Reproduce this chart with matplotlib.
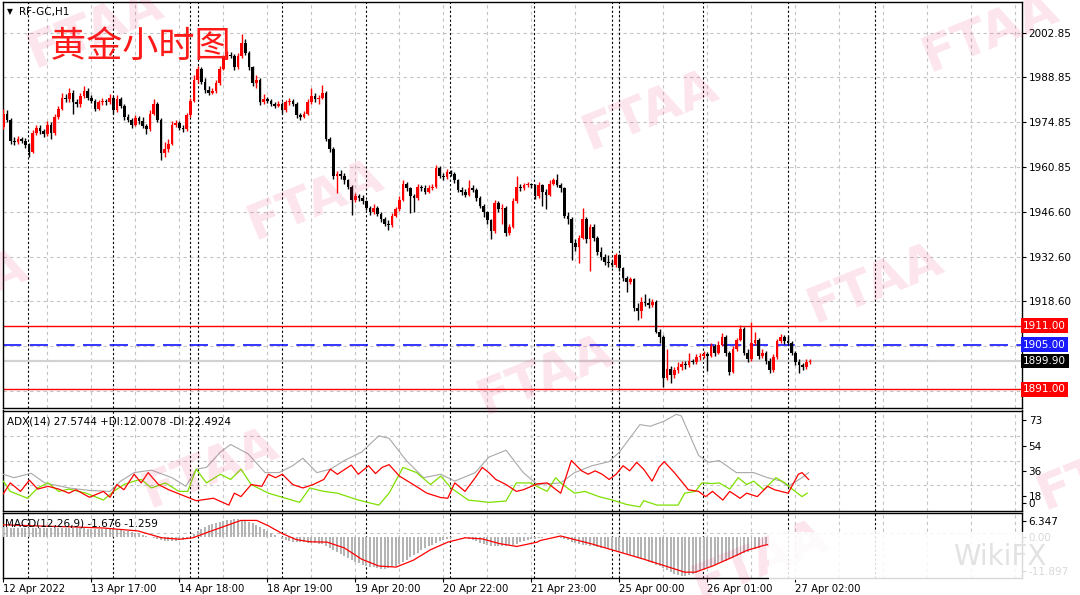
import matplotlib.pyplot as plt
from matplotlib.patches import Rectangle
import numpy as np

plt.rcParams['font.family'] = ['DejaVu Sans']

W, H = 1080, 595

# ---- H1 candles (RF-GC) ----
opens = [1973.3, 1977.5, 1975.5, 1969.0, 1968.5, 1969.5, 1969.0, 1967.5, 1965.5, 1971.5,
         1973.0, 1972.0, 1971.0, 1974.0, 1971.5, 1976.5, 1979.0, 1982.5, 1982.0, 1984.0,
         1981.0, 1980.5, 1983.0, 1984.5, 1982.5, 1981.5, 1979.0, 1981.0, 1981.5, 1981.0,
         1982.5, 1978.5, 1982.0, 1980.0, 1976.5, 1975.5, 1974.0, 1976.0, 1975.0, 1973.5,
         1972.5, 1977.5, 1980.5, 1975.5, 1965.0, 1966.5, 1968.0, 1974.0, 1974.5, 1973.0,
         1972.5, 1977.0, 1981.5, 1988.0, 1991.5, 1987.5, 1985.0, 1984.0, 1984.5, 1987.0,
         1991.5, 1995.0, 1996.0, 1995.5, 1992.0, 1995.5, 1999.5, 1996.5, 1992.0, 1987.0,
         1988.0, 1981.0, 1982.0, 1981.5, 1980.5, 1980.0, 1980.5, 1978.5, 1981.0, 1981.5,
         1980.5, 1977.0, 1976.5, 1977.5, 1981.0, 1983.0, 1982.0, 1982.5, 1984.0, 1969.5,
         1966.5, 1958.0, 1958.5, 1958.0, 1956.5, 1954.5, 1950.5, 1951.5, 1951.0, 1950.0,
         1948.0, 1946.5, 1948.0, 1946.0, 1944.5, 1943.0, 1942.5, 1945.5, 1947.5, 1950.5,
         1955.5, 1954.0, 1951.5, 1951.0, 1954.5, 1954.0, 1953.0, 1954.0, 1954.5, 1960.5,
         1958.0, 1957.5, 1959.0, 1958.5, 1956.5, 1953.5, 1953.0, 1952.0, 1954.0, 1953.5,
         1951.0, 1948.5, 1946.5, 1944.0, 1940.5, 1949.5, 1947.5, 1948.0, 1940.0, 1942.0,
         1950.0, 1954.5, 1954.0, 1955.0, 1955.3, 1955.0, 1951.5, 1955.0, 1953.0, 1952.0,
         1955.5, 1956.5, 1955.0, 1954.0, 1945.5, 1944.5, 1937.0, 1935.5, 1938.5, 1944.5,
         1938.0, 1942.0, 1938.5, 1934.0, 1932.5, 1931.0, 1930.5, 1930.0, 1933.0, 1929.0,
         1926.0, 1924.5, 1925.5, 1916.5, 1915.5, 1918.5, 1918.0, 1917.5, 1918.5, 1909.0,
         1907.5, 1894.5, 1897.5, 1895.5, 1897.0, 1898.0, 1899.0, 1898.5, 1899.8, 1899.5,
         1901.0, 1901.5, 1902.0, 1901.5, 1904.5, 1902.5, 1905.0, 1907.5, 1902.5, 1896.5,
         1903.5, 1906.5, 1910.0, 1902.5, 1900.5, 1905.5, 1906.5, 1901.5, 1902.5, 1900.0,
         1897.0, 1901.0, 1906.0, 1907.5, 1906.0, 1905.5, 1902.5, 1899.5, 1898.5, 1898.0,
         1899.5]
highs = [1978.8, 1978.5, 1976.0, 1970.2, 1970.5, 1970.0, 1969.8, 1968.2, 1972.3, 1974.0,
         1973.8, 1972.6, 1975.0, 1974.8, 1977.2, 1979.8, 1983.8, 1983.5, 1985.5, 1985.0,
         1982.0, 1984.0, 1986.0, 1985.5, 1983.2, 1982.0, 1981.8, 1982.5, 1982.2, 1983.5,
         1983.0, 1983.2, 1982.8, 1980.5, 1977.5, 1976.2, 1977.0, 1976.8, 1976.5, 1974.2,
         1978.5, 1982.0, 1981.0, 1976.0, 1968.5, 1969.5, 1975.0, 1975.5, 1975.2, 1973.8,
         1977.8, 1982.5, 1989.5, 1992.5, 1992.0, 1988.5, 1986.0, 1985.5, 1988.0, 1992.5,
         1996.0, 1997.2, 1996.8, 1996.2, 1996.5, 2002.5, 2001.0, 1997.0, 1992.5, 1989.5,
         1988.5, 1983.5, 1982.8, 1982.0, 1981.2, 1981.3, 1981.0, 1981.8, 1982.5, 1982.0,
         1981.0, 1977.8, 1978.3, 1982.0, 1985.5, 1983.8, 1983.3, 1986.5, 1984.5, 1970.2,
         1967.0, 1959.5, 1959.8, 1958.8, 1957.0, 1955.0, 1952.5, 1952.2, 1951.8, 1950.5,
         1948.6, 1949.0, 1948.5, 1946.5, 1945.0, 1944.0, 1946.2, 1948.3, 1951.5, 1956.5,
         1956.0, 1954.5, 1952.3, 1955.5, 1955.2, 1955.0, 1955.0, 1955.5, 1961.3, 1961.0,
         1958.8, 1960.0, 1959.8, 1959.2, 1957.0, 1954.5, 1953.8, 1956.5, 1955.0, 1954.0,
         1951.5, 1949.2, 1947.0, 1944.5, 1950.5, 1950.2, 1949.0, 1948.5, 1943.0, 1951.0,
         1958.0, 1955.5, 1955.8, 1956.0, 1955.8, 1955.5, 1956.0, 1955.5, 1953.8, 1956.5,
         1957.2, 1958.5, 1955.8, 1954.5, 1946.5, 1945.0, 1938.0, 1939.5, 1948.0, 1945.0,
         1943.0, 1942.8, 1939.0, 1935.5, 1933.5, 1933.0, 1931.5, 1933.8, 1933.5, 1929.5,
         1926.5, 1926.2, 1926.0, 1918.0, 1920.0, 1921.0, 1919.5, 1919.3, 1919.0, 1910.0,
         1908.0, 1903.5, 1898.2, 1898.0, 1899.5, 1900.0, 1899.8, 1902.5, 1900.5, 1902.0,
         1902.5, 1903.0, 1902.8, 1905.5, 1905.2, 1906.2, 1908.5, 1908.0, 1903.0, 1904.5,
         1907.2, 1911.3, 1910.5, 1903.5, 1912.2, 1909.0, 1907.0, 1903.5, 1903.0, 1900.8,
         1902.0, 1906.8, 1908.3, 1908.0, 1907.8, 1906.0, 1903.0, 1900.5, 1899.2, 1900.5,
         1900.6]
lows = [1972.5, 1974.8, 1968.0, 1967.5, 1967.8, 1968.3, 1966.8, 1964.0, 1965.0, 1970.8,
        1971.2, 1970.2, 1970.5, 1969.5, 1970.8, 1975.8, 1978.5, 1981.0, 1981.2, 1977.5,
        1979.5, 1979.5, 1982.5, 1981.8, 1980.8, 1978.2, 1978.5, 1980.3, 1980.2, 1980.5,
        1977.5, 1978.0, 1979.2, 1975.5, 1974.8, 1973.0, 1973.5, 1974.2, 1972.8, 1971.2,
        1972.0, 1977.0, 1974.8, 1962.8, 1964.0, 1965.5, 1967.5, 1973.2, 1972.3, 1971.8,
        1972.0, 1976.5, 1981.0, 1987.2, 1986.8, 1984.0, 1983.2, 1983.5, 1984.0, 1986.5,
        1991.0, 1994.5, 1994.8, 1991.0, 1991.5, 1995.0, 1996.0, 1991.2, 1986.0, 1985.5,
        1980.2, 1980.5, 1980.8, 1979.8, 1979.3, 1979.5, 1977.5, 1978.0, 1980.3, 1979.8,
        1976.0, 1975.5, 1976.0, 1977.0, 1980.5, 1981.2, 1980.5, 1982.0, 1968.8, 1965.5,
        1957.0, 1952.6, 1957.0, 1955.5, 1953.8, 1945.7, 1949.8, 1950.2, 1949.2, 1947.2,
        1945.8, 1946.0, 1945.2, 1943.6, 1942.2, 1940.9, 1942.0, 1945.0, 1947.0, 1950.0,
        1953.2, 1946.3, 1946.5, 1950.5, 1953.2, 1952.2, 1952.5, 1953.5, 1954.0, 1957.2,
        1956.8, 1957.0, 1957.8, 1955.8, 1952.8, 1952.0, 1951.3, 1951.5, 1952.8, 1950.2,
        1947.8, 1945.0, 1943.0, 1938.0, 1940.0, 1946.5, 1943.0, 1939.0, 1939.5, 1941.5,
        1949.5, 1953.2, 1953.5, 1954.5, 1954.2, 1950.8, 1951.0, 1948.5, 1947.5, 1951.5,
        1955.0, 1954.5, 1953.0, 1944.8, 1943.0, 1931.5, 1934.5, 1930.5, 1938.0, 1937.0,
        1928.0, 1937.5, 1933.2, 1931.5, 1930.0, 1929.5, 1929.2, 1929.5, 1928.2, 1925.0,
        1921.5, 1924.0, 1915.5, 1912.8, 1913.5, 1917.0, 1916.5, 1916.8, 1908.5, 1905.5,
        1891.7, 1894.0, 1893.0, 1894.5, 1896.0, 1897.2, 1897.5, 1898.0, 1898.8, 1899.0,
        1900.3, 1900.8, 1896.8, 1901.0, 1901.5, 1902.0, 1904.5, 1901.5, 1895.5, 1896.0,
        1903.0, 1906.0, 1901.8, 1899.5, 1900.0, 1904.8, 1900.5, 1900.8, 1899.0, 1896.2,
        1896.5, 1900.5, 1905.5, 1905.2, 1904.8, 1901.8, 1898.5, 1896.2, 1897.0, 1897.5,
        1899.0]
closes = [1977.5, 1975.5, 1969.0, 1968.5, 1969.5, 1969.0, 1967.5, 1965.5, 1971.5, 1973.0,
          1972.0, 1971.0, 1974.0, 1971.5, 1976.5, 1979.0, 1982.5, 1982.0, 1984.0, 1981.0,
          1980.5, 1983.0, 1984.5, 1982.5, 1981.5, 1979.0, 1981.0, 1981.5, 1981.0, 1982.5,
          1978.5, 1982.0, 1980.0, 1976.5, 1975.5, 1974.0, 1976.0, 1975.0, 1973.5, 1972.5,
          1977.5, 1980.5, 1975.5, 1965.0, 1966.5, 1968.0, 1974.0, 1974.5, 1973.0, 1972.5,
          1977.0, 1981.5, 1988.0, 1991.5, 1987.5, 1985.0, 1984.0, 1984.5, 1987.0, 1991.5,
          1995.0, 1996.0, 1995.5, 1992.0, 1995.5, 1999.5, 1996.5, 1992.0, 1987.0, 1988.0,
          1981.0, 1982.0, 1981.5, 1980.5, 1980.0, 1980.5, 1978.5, 1981.0, 1981.5, 1980.5,
          1977.0, 1976.5, 1977.5, 1981.0, 1983.0, 1982.0, 1982.5, 1984.0, 1969.5, 1966.5,
          1958.0, 1958.5, 1958.0, 1956.5, 1954.5, 1950.5, 1951.5, 1951.0, 1950.0, 1948.0,
          1946.5, 1948.0, 1946.0, 1944.5, 1943.0, 1942.5, 1945.5, 1947.5, 1950.5, 1955.5,
          1954.0, 1951.5, 1951.0, 1954.5, 1954.0, 1953.0, 1954.0, 1954.5, 1960.5, 1958.0,
          1957.5, 1959.0, 1958.5, 1956.5, 1953.5, 1953.0, 1952.0, 1954.0, 1953.5, 1951.0,
          1948.5, 1946.5, 1944.0, 1940.5, 1949.5, 1947.5, 1948.0, 1940.0, 1942.0, 1950.0,
          1954.5, 1954.0, 1955.0, 1955.3, 1955.0, 1951.5, 1955.0, 1953.0, 1952.0, 1955.5,
          1956.5, 1955.0, 1954.0, 1945.5, 1944.5, 1937.0, 1935.5, 1938.5, 1944.5, 1938.0,
          1942.0, 1938.5, 1934.0, 1932.5, 1931.0, 1930.5, 1930.0, 1933.0, 1929.0, 1926.0,
          1924.5, 1925.5, 1916.5, 1915.5, 1918.5, 1918.0, 1917.5, 1918.5, 1909.0, 1907.5,
          1894.5, 1897.5, 1895.5, 1897.0, 1898.0, 1899.0, 1898.5, 1899.8, 1899.5, 1901.0,
          1901.5, 1902.0, 1901.5, 1904.5, 1902.5, 1905.0, 1907.5, 1902.5, 1896.5, 1903.5,
          1906.5, 1910.0, 1902.5, 1900.5, 1905.5, 1906.5, 1901.5, 1902.5, 1900.0, 1897.0,
          1901.0, 1906.0, 1907.5, 1906.0, 1905.5, 1902.5, 1899.5, 1898.5, 1898.0, 1899.5,
          1899.9]

# ---- ADX(14): (bar, value) ----
adx = [(0, 33.5), (2.9, 31), (7.6, 34.2), (11.3, 27.2), (17.9, 23.5), (23.5, 21.7), (29.1, 21),
       (32, 28.5), (35.7, 34.7), (40.4, 36.5), (46, 31), (49.8, 24.7), (52.6, 37.2), (55.4, 38.5),
       (59.2, 49.7), (62, 55.2), (66.7, 48.5), (71.4, 34.7), (75.2, 34.7), (78.9, 39.7), (81.7, 45.2),
       (85.5, 34.7), (89.2, 37.2), (93, 43.5), (97.7, 49.7), (102.4, 61.5), (105.2, 59.7),
       (109.9, 43.5), (114.6, 31), (119.3, 33.5), (123.1, 28.5), (128.7, 34.7), (132.4, 46),
       (137.1, 51), (141.8, 34.7), (145.6, 26), (152, 27.2), (155.8, 34.7), (160.5, 39.7),
       (165.2, 42.7), (168, 49.7), (173.6, 69.7), (176.4, 68.5), (180.2, 72.2), (183.5, 77.2),
       (184.9, 76), (189.6, 47.2), (192.4, 42.2), (195.2, 43.5), (199.9, 34.7), (204.6, 34.7),
       (208.4, 31), (212.1, 28.5), (214, 24.7), (217.8, 31), (219.6, 34.7)]
minus_di = [(0, 19.2), (1.9, 27.2), (4.7, 21), (7.1, 29.2), (9.4, 22.7), (12.2, 24.7), (15.1, 22.7),
            (17.9, 19.7), (19.8, 22.2), (23.5, 16.7), (27.3, 21), (29.1, 16.7), (31, 26), (32.9, 22.2),
            (35.7, 33.5), (37.6, 27.2), (39.5, 34.7), (42.3, 26), (45.1, 22.2), (49.8, 17.2),
            (52.6, 14.2), (57.3, 16), (61.5, 11), (63, 19.7), (64.8, 17.2), (67.6, 26), (70.5, 24.7),
            (72.3, 33.5), (74.2, 31), (76.1, 33.5), (78.9, 26), (81.7, 23.5), (84.5, 26), (87.4, 29.7),
            (89.2, 37.2), (91.1, 33.5), (94.9, 40.2), (96.8, 33.5), (99.6, 39.7), (101.5, 34),
            (103.3, 38.5), (105.2, 40.5), (108, 32.2), (111.8, 26), (115.5, 19.7), (119.3, 16.5),
            (121.2, 16), (123.1, 27.2), (125.9, 21), (128.7, 31), (130.6, 38.5), (132.4, 34.7),
            (134.3, 29.7), (137.1, 26), (139.9, 21), (141.8, 22.2), (145.6, 26.5), (148.3, 27.2),
            (152, 19.7), (154.9, 43.5), (157.7, 36), (159.5, 33.5), (161.4, 36), (163.3, 33.5),
            (165.2, 29.7), (167.1, 33.5), (169, 39.7), (170.8, 36), (172.7, 42.2), (174.6, 37.2),
            (176.9, 28.5), (178.8, 38.5), (180.2, 42.7), (183, 34.7), (186.8, 22.2), (189.6, 21),
            (191.5, 17.2), (193.4, 21), (196.2, 14.7), (198.1, 21), (200.9, 16), (202.7, 19.7),
            (205.6, 17.2), (208.4, 24.7), (210.3, 22.2), (214, 19.7), (216.8, 33.5), (217.8, 34.7),
            (219.6, 29.7)]
plus_di = [(0, 28.5), (1.9, 21), (6.6, 16), (9.4, 23.5), (12.2, 27.2), (15.1, 21), (17.9, 22.7),
           (22.6, 19.7), (27.3, 14.7), (30.1, 21), (32.9, 26), (35.7, 28.5), (37.6, 29.7), (40.4, 23.5),
           (44.2, 27.2), (47.9, 21), (50.3, 21), (52.6, 37.2), (55.4, 27.2), (59.2, 33.5), (62, 29.7),
           (64.8, 37.2), (67.6, 26), (72.3, 19.7), (77, 16), (80.8, 13), (83.6, 23.5), (87.4, 21),
           (91.1, 19.7), (96.8, 14.7), (102.4, 11), (105.2, 19.7), (109, 38.5), (112.7, 34.7),
           (116.5, 26), (119.3, 32.2), (122.1, 23.5), (126.8, 14.7), (132.4, 13), (137.1, 14),
           (139.9, 27.2), (143.7, 27.2), (146.4, 23.5), (148.3, 21), (150.6, 31), (152.5, 26),
           (155.8, 19.7), (158.6, 21), (162.4, 17.2), (166.1, 14.7), (169.9, 11.5), (173.6, 9.7),
           (174.6, 14.2), (178.3, 11), (184, 11), (185.8, 19.7), (188.7, 21), (190.5, 27.2),
           (193.4, 26.7), (195.2, 27.2), (198.1, 22.7), (200.4, 31), (202.7, 26), (204.6, 28.5),
           (207.4, 22.2), (210.7, 31), (213.1, 27.2), (215.9, 21), (217.8, 17.2), (219.2, 19.7)]

# ---- MACD(12,26,9) ----
macd_hist = [2.6, 2.6, 2.5, 2.5, 2.4, 2.4, 2.4, 2.3, 2.3, 2.4,
             2.4, 2.4, 2.3, 2.3, 2.3, 2.4, 2.5, 2.5, 2.4, 2.4,
             2.3, 2.3, 2.3, 2.2, 2.2, 2.1, 2.1, 2.1, 2.0, 2.0,
             2.0, 1.9, 1.8, 1.6, 1.5, 1.3, 1.1, 0.9, 0.6, 0.3,
             0.0, -0.3, -0.6, -0.9, -1.1, -1.2, -1.2, -1.1, -1.0, -0.8,
             -0.5, 0.0, 0.8, 1.6, 2.2, 2.8, 3.2, 3.6, 3.9, 4.2,
             4.4, 4.6, 4.7, 4.8, 4.8, 4.7, 4.5, 4.2, 3.8, 3.3,
             2.7, 2.1, 1.5, 0.9, 0.4, -0.1, -0.5, -0.9, -1.2, -1.4,
             -1.5, -1.6, -1.6, -1.7, -1.7, -1.8, -1.9, -2.1, -2.6, -3.1,
             -3.7, -4.3, -4.9, -5.4, -5.9, -6.4, -6.9, -7.3, -7.7, -8.0,
             -8.3, -8.5, -8.7, -8.8, -8.8, -8.7, -8.4, -8.0, -7.5, -6.9,
             -6.3, -5.7, -5.0, -4.4, -3.8, -3.2, -2.7, -2.2, -1.7, -1.3,
             -0.9, -0.6, -0.4, -0.2, -0.1, -0.2, -0.3, -0.6, -0.9, -1.3,
             -1.7, -2.0, -2.3, -2.5, -2.6, -2.7, -2.7, -2.6, -2.4, -2.2,
             -1.9, -1.6, -1.3, -1.0, -0.7, -0.5, -0.4, -0.3, -0.2, -0.1,
             0.0, -0.1, -0.3, -0.6, -1.0, -1.4, -1.7, -2.0, -2.2, -2.4,
             -2.6, -2.7, -2.9, -3.0, -3.2, -3.4, -3.7, -4.0, -4.2, -4.5,
             -4.8, -5.1, -5.5, -5.8, -6.1, -6.5, -6.9, -7.3, -7.7, -8.1,
             -8.6, -9.2, -9.7, -10.2, -10.6, -10.8, -10.8, -10.6, -10.3, -9.9,
             -9.5, -9.1, -8.7, -8.3, -7.9, -7.5, -7.0, -6.6, -6.2, -5.8,
             -5.4, -5.0, -4.6, -4.2, -3.8, -3.4, -3.0, -2.6, -2.2]
macd_signal = [(0, 3.3), (8.5, 3.0), (17.9, 2.75), (27.3, 2.4), (36.7, 1.6), (43.2, -0.3), (48, -0.7),
               (51.7, -0.3), (55.4, 1.1), (60.1, 2.8), (64.8, 4.5), (69.1, 4.5), (72.3, 3.0),
               (76.1, 0.85), (79.9, -0.8), (83.6, -1.4), (88.3, -1.5), (93, -3.1), (97.7, -6.2),
               (102.4, -8.1), (107.1, -8.4), (111.8, -6.5), (116.5, -3.6), (121.2, -1.5), (125.9, -0.3),
               (130.6, -0.6), (135.3, -1.9), (140, -2.7), (145.6, -1.5), (146.4, -1.05), (152, 0.2),
               (155.8, -0.8), (160.5, -2.0), (165.2, -3.4), (169.9, -4.8), (174.6, -6.2), (179.3, -7.7),
               (185.8, -9.8), (188.7, -9.8), (193.4, -8.1), (198.1, -6.0), (202.7, -3.8), (207.4, -2.4),
               (208.4, -2.2)]

time_labels = ['12 Apr 2022', '13 Apr 17:00', '14 Apr 18:00', '18 Apr 19:00', '19 Apr 20:00',
               '20 Apr 22:00', '21 Apr 23:00', '25 Apr 00:00', '26 Apr 01:00', '27 Apr 02:00']
time_label_bars = [0, 24, 48, 72, 96, 120, 144, 168, 192, 216]
day_breaks = [6.8, 30, 50.9, 53, 75.9, 98.9, 121.8, 144.8, 165.9, 168, 190.9, 213.9, 237.7]
price_ticks = [2002.85, 1988.85, 1974.85, 1960.85, 1946.60, 1932.60, 1918.60, 1904.60, 1890.60]
price_levels = [(1911.00, '#ff0000'), (1905.00, '#1a1aff'), (1899.90, '#000000'), (1891.00, '#ff0000')]

fig = plt.figure(figsize=(10.8, 5.95), dpi=100)
fig.patch.set_facecolor('white')


def pane(x0, y0, x1, y1):
    return fig.add_axes([x0 / W, 1 - y1 / H, (x1 - x0) / W, (y1 - y0) / H])


ax = pane(2.7, 1.7, 1021.7, 408)
ax2 = pane(2.7, 410.5, 1021.7, 511)
ax3 = pane(2.7, 513, 1021.7, 578)

grid_kw = dict(color='#c4c4c4', lw=0.8, ls=(0, (3, 3)), zorder=0)
for a in (ax, ax2, ax3):
    a.set_xlim(-0.16, 277.7)
    for b in range(12, 278, 12):
        a.axvline(b, **grid_kw)
    for b in day_breaks:
        a.axvline(b, color='black', lw=0.8, ls=(0, (2, 2)), zorder=1)
    for s in a.spines.values():
        s.set_color('black')
        s.set_linewidth(1.0)
    a.yaxis.tick_right()
    a.tick_params(axis='y', length=3, width=0.8, pad=2, labelsize=7.5, colors='black')
    a.tick_params(axis='x', bottom=False, labelbottom=False)

# main pane
ax.set_ylim(1885.13, 2012.57)
for p in price_ticks:
    ax.axhline(p, **grid_kw)
ax.set_yticks(price_ticks)
ax.set_yticklabels([f'{p:.2f}' for p in price_ticks[:7]] + ['', ''])

ax.axhline(1899.9, color='#d2d2d2', lw=1.6, zorder=1.5)
ax.axhline(1911.0, color='#ff0000', lw=1.0, zorder=2)
ax.axhline(1891.0, color='#ff0000', lw=1.0, zorder=2)
ax.axhline(1905.0, color='#1414ff', lw=1.2, ls=(0, (11, 5)), zorder=2)

o = np.array(opens)
c = np.array(closes)
h = np.maximum(np.array(highs), np.maximum(o, c))
l = np.minimum(np.array(lows), np.minimum(o, c))
idx = np.arange(len(c))
cols = np.where(c >= o, '#ff0000', '#000000')
ax.vlines(idx, l, h, colors=cols, lw=1.0, zorder=3)
ax.bar(idx, np.maximum(np.abs(c - o), 0.4), bottom=np.minimum(o, c), width=0.74,
       color=cols, lw=0, zorder=4)

for val, bg in price_levels:
    ax.text(1.0015, val, f'{val:.2f}', transform=ax.get_yaxis_transform(), ha='left',
            va='center', fontsize=7.5, color='white', clip_on=False, zorder=10,
            bbox=dict(boxstyle='square,pad=0.22', fc=bg, ec='none'))

# ADX pane
ax2.set_ylim(6.7, 80.0)
for g in (61.1, 43.0, 25.3):
    ax2.axhline(g, **grid_kw)
ax2.set_yticks([73, 54, 36, 18, 12.7])
ax2.set_yticklabels(['73', '54', '36', '18', '0'])
bx, bv = zip(*adx)
ax2.plot(bx, bv, color='#a8a8a8', lw=0.8, zorder=3)
bx, bv = zip(*plus_di)
ax2.plot(bx, bv, color='#7fe000', lw=0.9, zorder=4)
bx, bv = zip(*minus_di)
ax2.plot(bx, bv, color='#ff0000', lw=0.9, zorder=5)

# MACD pane
ax3.set_ylim(-11.41, 6.55)
ax3.axhline(1.1, **grid_kw)
ax3.set_yticks([4.28, 0, -9.34])
ax3.set_yticklabels(['6.347', '0.00', '-11.897'])
ax3.bar(np.arange(len(macd_hist)), macd_hist, width=0.5, color='#b4b4b4', lw=0, zorder=3)
bx, bv = zip(*macd_signal)
ax3.plot(bx, bv, color='#ff0000', lw=0.9, zorder=4)
ax3.set_xticks(time_label_bars)
ax3.set_xticklabels(time_labels, ha='left')
ax3.tick_params(axis='x', bottom=True, labelbottom=True, length=3, width=0.8, pad=1.5,
                labelsize=7.3)

# header texts
fig.text(7 / W, 1 - 12 / H, '\u25bc', fontsize=5.5, va='center', ha='left')
fig.text(19 / W, 1 - 12 / H, 'RF-GC,H1', fontsize=7.5, va='center', ha='left')
fig.text(50 / W, 1 - 47 / H, '黄金小时图', fontsize=26, color='#ff1a1a', va='center', ha='left',
         family=['Noto Sans CJK SC', 'DejaVu Sans'], weight='light', zorder=6)
fig.text(7 / W, 1 - 421.5 / H, 'ADX(14) 27.5744 +DI:12.0078 -DI:22.4924', fontsize=7.5,
         va='center', ha='left')
fig.text(5 / W, 1 - 524 / H, 'MACD(12,26,9) -1.676 -1.259', fontsize=7.5, va='center', ha='left')

# watermarks
for wx, wy in [(95, 28), (650, 110), (990, 32), (315, 200), (-40, 290), (875, 283),
               (545, 375), (210, 468), (760, 560), (1105, 470)]:
    fig.text(wx / W, 1 - wy / H, 'FTAA', fontsize=36, weight='bold', color='#e8336a',
             alpha=0.13, rotation=22, ha='center', va='center', zorder=15)

fig.patches.append(Rectangle((769 / W, 1 - 580 / H), (1080 - 769) / W, 48 / H,
                             transform=fig.transFigure, fc='white', ec='none', alpha=0.85,
                             zorder=20))
fig.text(1000 / W, 1 - 557 / H, 'WikiFX', fontsize=20, color='#e2e2e2', ha='center',
         va='center', zorder=21)

fig.savefig('out.png', dpi=100, facecolor='white')
